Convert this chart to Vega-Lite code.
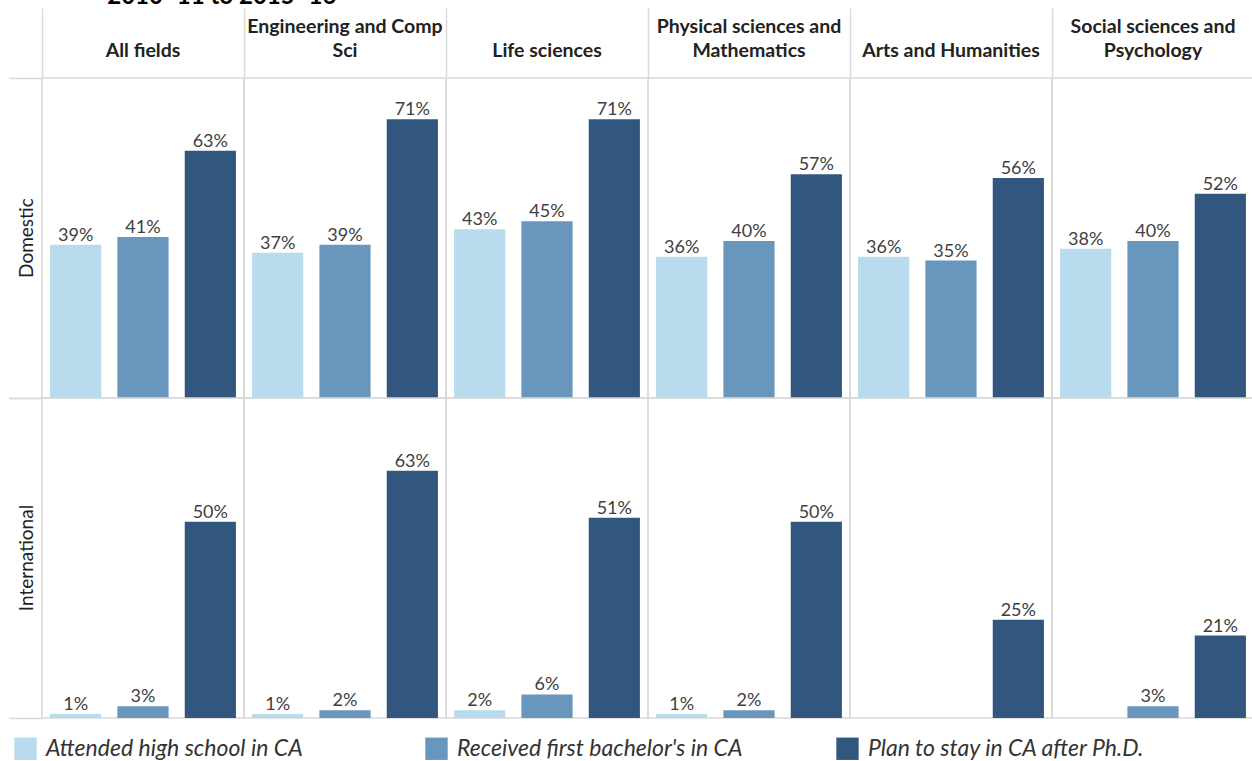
{
  "$schema": "https://vega.github.io/schema/vega-lite/v6.json",
  "padding": {"left": 8, "top": -15, "right": 0, "bottom": 0},
  "bounds": "flush",
  "title": {
    "text": "2010–11 to 2015–16",
    "anchor": "start",
    "dx": 99,
    "offset": -2,
    "font": "Lato",
    "fontSize": 24,
    "fontWeight": "bold",
    "color": "#000000"
  },
  "data": {
    "values": [
      {"group": "Domestic", "field": "All fields", "measure": "Attended high school in CA", "value": 0.39},
      {"group": "Domestic", "field": "All fields", "measure": "Received first bachelor's in CA", "value": 0.41},
      {"group": "Domestic", "field": "All fields", "measure": "Plan to stay in CA after Ph.D.", "value": 0.63},
      {"group": "Domestic", "field": "Engineering and Comp Sci", "measure": "Attended high school in CA", "value": 0.37},
      {"group": "Domestic", "field": "Engineering and Comp Sci", "measure": "Received first bachelor's in CA", "value": 0.39},
      {"group": "Domestic", "field": "Engineering and Comp Sci", "measure": "Plan to stay in CA after Ph.D.", "value": 0.71},
      {"group": "Domestic", "field": "Life sciences", "measure": "Attended high school in CA", "value": 0.43},
      {"group": "Domestic", "field": "Life sciences", "measure": "Received first bachelor's in CA", "value": 0.45},
      {"group": "Domestic", "field": "Life sciences", "measure": "Plan to stay in CA after Ph.D.", "value": 0.71},
      {"group": "Domestic", "field": "Physical sciences and Mathematics", "measure": "Attended high school in CA", "value": 0.36},
      {"group": "Domestic", "field": "Physical sciences and Mathematics", "measure": "Received first bachelor's in CA", "value": 0.40},
      {"group": "Domestic", "field": "Physical sciences and Mathematics", "measure": "Plan to stay in CA after Ph.D.", "value": 0.57},
      {"group": "Domestic", "field": "Arts and Humanities", "measure": "Attended high school in CA", "value": 0.36},
      {"group": "Domestic", "field": "Arts and Humanities", "measure": "Received first bachelor's in CA", "value": 0.35},
      {"group": "Domestic", "field": "Arts and Humanities", "measure": "Plan to stay in CA after Ph.D.", "value": 0.56},
      {"group": "Domestic", "field": "Social sciences and Psychology", "measure": "Attended high school in CA", "value": 0.38},
      {"group": "Domestic", "field": "Social sciences and Psychology", "measure": "Received first bachelor's in CA", "value": 0.40},
      {"group": "Domestic", "field": "Social sciences and Psychology", "measure": "Plan to stay in CA after Ph.D.", "value": 0.52},
      {"group": "International", "field": "All fields", "measure": "Attended high school in CA", "value": 0.01},
      {"group": "International", "field": "All fields", "measure": "Received first bachelor's in CA", "value": 0.03},
      {"group": "International", "field": "All fields", "measure": "Plan to stay in CA after Ph.D.", "value": 0.50},
      {"group": "International", "field": "Engineering and Comp Sci", "measure": "Attended high school in CA", "value": 0.01},
      {"group": "International", "field": "Engineering and Comp Sci", "measure": "Received first bachelor's in CA", "value": 0.02},
      {"group": "International", "field": "Engineering and Comp Sci", "measure": "Plan to stay in CA after Ph.D.", "value": 0.63},
      {"group": "International", "field": "Life sciences", "measure": "Attended high school in CA", "value": 0.02},
      {"group": "International", "field": "Life sciences", "measure": "Received first bachelor's in CA", "value": 0.06},
      {"group": "International", "field": "Life sciences", "measure": "Plan to stay in CA after Ph.D.", "value": 0.51},
      {"group": "International", "field": "Physical sciences and Mathematics", "measure": "Attended high school in CA", "value": 0.01},
      {"group": "International", "field": "Physical sciences and Mathematics", "measure": "Received first bachelor's in CA", "value": 0.02},
      {"group": "International", "field": "Physical sciences and Mathematics", "measure": "Plan to stay in CA after Ph.D.", "value": 0.50},
      {"group": "International", "field": "Arts and Humanities", "measure": "Plan to stay in CA after Ph.D.", "value": 0.25},
      {"group": "International", "field": "Social sciences and Psychology", "measure": "Received first bachelor's in CA", "value": 0.03},
      {"group": "International", "field": "Social sciences and Psychology", "measure": "Plan to stay in CA after Ph.D.", "value": 0.21}
    ]
  },
  "spacing": 0,
  "facet": {
    "row": {
      "field": "group",
      "type": "nominal",
      "sort": ["Domestic", "International"],
      "header": {
        "title": null,
        "labelAngle": -90,
        "labelOrient": "left",
        "labelPadding": -38,
        "labelFont": "Lato",
        "labelFontSize": 19,
        "labelColor": "#222222"
      }
    },
    "column": {
      "field": "field",
      "type": "nominal",
      "sort": ["All fields", "Engineering and Comp Sci", "Life sciences", "Physical sciences and Mathematics", "Arts and Humanities", "Social sciences and Psychology"],
      "header": {
        "title": null,
        "labelFont": "Lato",
        "labelFontWeight": "bold",
        "labelFontSize": 19.5,
        "labelColor": "#222222",
        "labelBaseline": "middle",
        "labelLineHeight": 24,
        "labelPadding": -63,
        "labelExpr": "datum.value == 'Engineering and Comp Sci' ? ['Engineering and Comp', 'Sci'] : datum.value == 'Physical sciences and Mathematics' ? ['Physical sciences and', 'Mathematics'] : datum.value == 'Social sciences and Psychology' ? ['Social sciences and', 'Psychology'] : datum.value"
      }
    }
  },
  "spec": {
    "width": 202,
    "height": 320,
    "encoding": {
      "x": {
        "field": "measure",
        "type": "nominal",
        "sort": ["Attended high school in CA", "Received first bachelor's in CA", "Plan to stay in CA after Ph.D."],
        "scale": {"paddingInner": 0.24, "paddingOuter": 0.12},
        "axis": {
          "orient": "top",
          "values": ["Attended high school in CA"],
          "bandPosition": 0,
          "tickOffset": -8.08,
          "tickSize": 70,
          "tickColor": "#d9d9d9",
          "tickWidth": 1.5,
          "labels": false,
          "domain": false,
          "title": null
        }
      },
      "y": {
        "field": "value",
        "type": "quantitative",
        "scale": {"domain": [0, 0.815], "nice": false},
        "axis": {
          "values": [0, 0.815],
          "tickSize": 33,
          "tickColor": "#d9d9d9",
          "tickWidth": 1.5,
          "labels": false,
          "domain": false,
          "grid": false,
          "title": null
        }
      }
    },
    "layer": [
      {
        "mark": {"type": "bar"},
        "encoding": {
          "color": {
            "field": "measure",
            "type": "nominal",
            "sort": ["Attended high school in CA", "Received first bachelor's in CA", "Plan to stay in CA after Ph.D."],
            "scale": {"range": ["#b8dbee", "#6996bc", "#32577f"]},
            "legend": {
              "orient": "none",
              "legendX": -28,
              "legendY": 659,
              "direction": "horizontal",
              "columns": 3,
              "gridAlign": "all",
              "columnPadding": 93,
              "title": null,
              "symbolType": "square",
              "symbolSize": 500,
              "symbolStrokeWidth": 0,
              "symbolOpacity": 1,
              "labelFont": "Lato",
              "labelFontStyle": "italic",
              "labelFontSize": 23,
              "labelColor": "#333333",
              "labelLimit": 400,
              "labelOffset": 9
            }
          }
        }
      },
      {
        "mark": {"type": "text", "baseline": "alphabetic", "dy": -4, "font": "Lato", "fontSize": 18, "color": "#404040"},
        "encoding": {
          "text": {"field": "value", "type": "quantitative", "format": ".0%"}
        }
      }
    ]
  },
  "config": {
    "view": {"stroke": "#d9d9d9", "strokeWidth": 1.5},
    "background": "#ffffff"
  }
}
